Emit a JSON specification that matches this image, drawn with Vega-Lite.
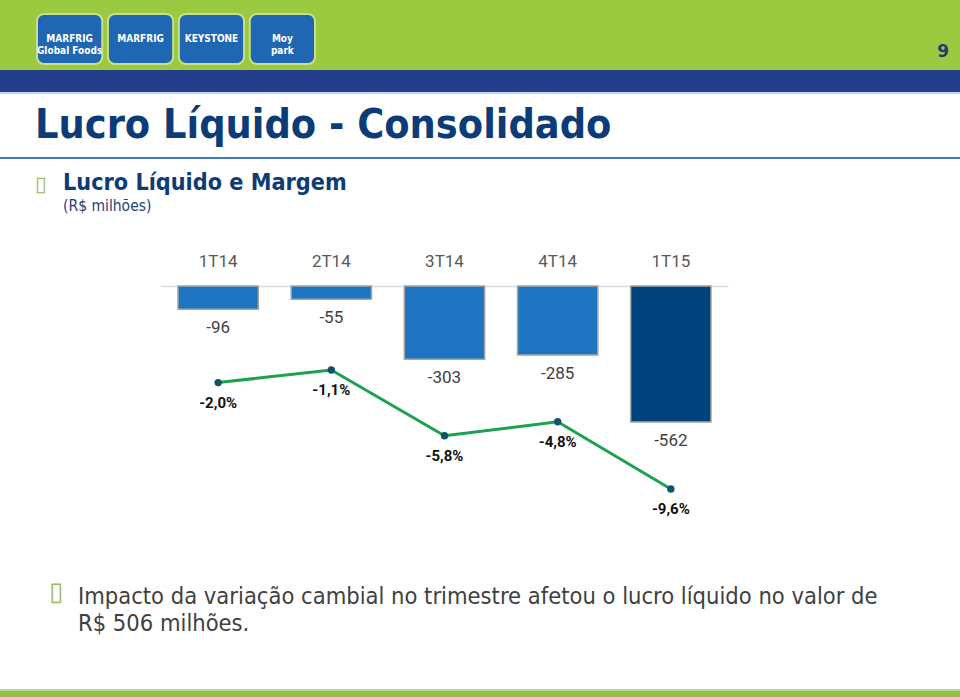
{
  "$schema": "https://vega.github.io/schema/vega-lite/v6.json",
  "padding": 0,
  "background": "white",
  "spacing": 0,
  "bounds": "flush",
  "config": {
    "view": {"stroke": null},
    "concat": {"spacing": 0},
    "locale": {"number": {"decimal": ",", "thousands": ".", "grouping": [3], "currency": ["R$ ", ""], "minus": "-"}}
  },
  "datasets": {
    "quarters": [
      {"q": "1T14", "lucro": -96, "margem": -0.020},
      {"q": "2T14", "lucro": -55, "margem": -0.011},
      {"q": "3T14", "lucro": -303, "margem": -0.058},
      {"q": "4T14", "lucro": -285, "margem": -0.048},
      {"q": "1T15", "lucro": -562, "margem": -0.096}
    ],
    "brands": [
      {"brand": "MARFRIG\nGlobal Foods"},
      {"brand": "MARFRIG"},
      {"brand": "KEYSTONE"},
      {"brand": "Moy\npark"}
    ],
    "band": [{"part": "band"}]
  },
  "vconcat": [
    {
      "width": 960, "height": 70,
      "view": {"fill": "#9BC93F"},
      "data": {"name": "brands"},
      "encoding": {
        "x": {"field": "brand", "type": "nominal", "sort": null, "axis": null,
              "scale": {"range": [37, 315], "paddingInner": 0.08, "paddingOuter": 0}},
        "y": {"datum": "logo", "type": "nominal", "axis": null,
              "scale": {"paddingInner": 0, "paddingOuter": 0.2, "align": 0.7}}
      },
      "layer": [
        {"mark": {"type": "rect", "color": "#1F66B3", "cornerRadius": 7, "stroke": "#C8E08C", "strokeWidth": 2}},
        {"mark": {"type": "text", "color": "white", "fontWeight": "bold", "font": "DejaVu Sans Condensed", "fontSize": 10, "lineBreak": "\n"},
         "encoding": {"text": {"field": "brand"}}}
      ]
    },
    {
      "width": 960, "height": 22,
      "data": {"name": "band"},
      "mark": {"type": "rect", "color": "#233F8C"},
      "encoding": {},
      "title": {"text": "9", "anchor": "end", "frame": "group", "orient": "top", "offset": 9, "dx": -11,
                "font": "DejaVu Sans", "fontWeight": "bold", "fontSize": 17, "color": "#1F3E6E"}
    },
    {
      "width": 960, "height": 2,
      "data": {"name": "band"},
      "mark": {"type": "rect", "color": "#C6D3EA"},
      "encoding": {}
    },
    {
      "width": 960, "height": 63,
      "data": {"name": "band"},
      "mark": {"type": "rect", "opacity": 0},
      "encoding": {}
    },
    {
      "width": 960, "height": 2,
      "data": {"name": "band"},
      "mark": {"type": "rect", "color": "#3D7CC0"},
      "encoding": {},
      "title": {"text": "Lucro Líquido - Consolidado", "anchor": "start", "frame": "group", "offset": 10, "dx": 35,
                "font": "DejaVu Sans Condensed", "fontWeight": "bold", "fontSize": 41, "color": "#0C3C78"}
    },
    {
      "width": 960, "height": 38,
      "data": {"name": "band"},
      "mark": {"type": "rect", "opacity": 0},
      "encoding": {}
    },
    {
      "width": 960, "height": 21,
      "data": {"name": "band"},
      "mark": {"type": "rect", "opacity": 0},
      "encoding": {},
      "title": {"text": "▯", "anchor": "start", "frame": "group", "offset": 2, "dx": 35,
                "font": "DejaVu Sans", "fontSize": 21, "color": "#9BBB59"}
    },
    {
      "width": 960, "height": 68,
      "data": {"name": "band"},
      "mark": {"type": "rect", "opacity": 0},
      "encoding": {},
      "title": {"text": "Lucro Líquido e Margem", "subtitle": "(R$ milhões)", "anchor": "start", "frame": "group",
                "offset": 3, "dx": 63,
                "font": "DejaVu Sans Condensed", "fontWeight": "bold", "fontSize": 23.2, "color": "#0C3C78",
                "subtitleFont": "DejaVu Sans Condensed", "subtitleFontSize": 15.5, "subtitleColor": "#1F3F7A", "subtitlePadding": 3}
    },
    {
      "width": 960, "height": 230,
      "data": {"name": "quarters"},
      "encoding": {
        "x": {"field": "q", "type": "nominal", "sort": null,
              "scale": {"range": [161, 728], "paddingInner": 0.29, "paddingOuter": 0.15},
              "axis": {"orient": "top", "title": null, "labelAngle": 0, "ticks": false, "grid": false,
                       "domainColor": "#D9D9D9", "domainWidth": 1.5, "labelColor": "#595959",
                       "labelFont": "Roboto", "labelFontSize": 17, "labelPadding": 16}}
      },
      "layer": [
        {
          "mark": {"type": "bar", "stroke": "#A6A6A6", "strokeWidth": 1.5},
          "encoding": {
            "y": {"field": "lucro", "type": "quantitative", "scale": {"domain": [-950, 0], "nice": false}, "axis": null},
            "color": {"field": "q", "type": "nominal",
                      "scale": {"domain": ["1T14", "2T14", "3T14", "4T14", "1T15"],
                                "range": ["#1F74C1", "#1F74C1", "#1F74C1", "#1F74C1", "#00427C"]},
                      "legend": null}
          }
        },
        {
          "mark": {"type": "text", "baseline": "middle", "dy": 19, "font": "Roboto", "fontSize": 17, "color": "#404040"},
          "encoding": {
            "y": {"field": "lucro", "type": "quantitative", "scale": {"domain": [-950, 0], "nice": false}, "axis": null},
            "text": {"field": "lucro", "type": "quantitative", "format": "d"}
          }
        },
        {
          "mark": {"type": "line", "color": "#1CA24E", "strokeWidth": 3},
          "encoding": {
            "y": {"field": "margem", "type": "quantitative", "scale": {"domain": [-0.1153, 0.049], "nice": false, "zero": false}, "axis": null}
          }
        },
        {
          "mark": {"type": "point", "filled": true, "color": "#0B5566", "size": 55, "opacity": 1},
          "encoding": {
            "y": {"field": "margem", "type": "quantitative", "scale": {"domain": [-0.1153, 0.049], "nice": false, "zero": false}, "axis": null}
          }
        },
        {
          "mark": {"type": "text", "baseline": "middle", "dy": 20, "font": "Roboto", "fontWeight": "bold", "fontSize": 15, "color": "#111111"},
          "encoding": {
            "y": {"field": "margem", "type": "quantitative", "scale": {"domain": [-0.1153, 0.049], "nice": false, "zero": false}, "axis": null},
            "text": {"field": "margem", "type": "quantitative", "format": ".1%"}
          }
        }
      ],
      "resolve": {"scale": {"y": "independent"}}
    },
    {
      "width": 960, "height": 173,
      "data": {"name": "band"},
      "mark": {"type": "rect", "opacity": 0},
      "encoding": {}
    },
    {
      "width": 960, "height": 2,
      "data": {"name": "band"},
      "mark": {"type": "rect", "color": "#BBD68D"},
      "encoding": {},
      "title": {"text": ["Impacto da variação cambial no trimestre afetou o lucro líquido no valor de", "R$ 506 milhões."],
                "anchor": "start", "frame": "group", "offset": 54, "dx": 78, "lineHeight": 27,
                "font": "DejaVu Sans Condensed", "fontWeight": "normal", "fontSize": 23.5, "color": "#404040"}
    },
    {
      "width": 960, "height": 6,
      "data": {"name": "band"},
      "mark": {"type": "rect", "color": "#8DC63F"},
      "encoding": {},
      "title": {"text": "▯", "anchor": "start", "frame": "group", "offset": 86, "dx": 49,
                "font": "DejaVu Sans", "fontSize": 26, "color": "#9BBB59"}
    }
  ]
}
